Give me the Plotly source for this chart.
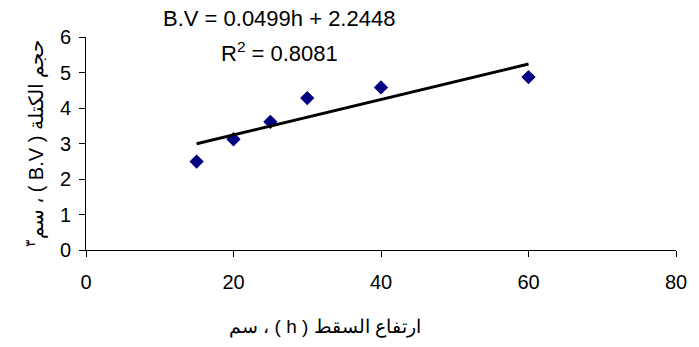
import plotly.graph_objects as go

h_values = [15, 20, 25, 30, 40, 60]
bv_values = [2.49, 3.12, 3.61, 4.28, 4.58, 4.87]
slope = 0.0499
intercept = 2.2448
r_squared = 0.8081
x_ticks = [0, 20, 40, 60, 80]
y_ticks = [0, 1, 2, 3, 4, 5, 6]

RLI, PDI = "\u2067", "\u2069"
x_title = RLI + "ارتفاع السقط ( h ) ، سم" + PDI
y_title = "<sup>٣</sup>" + RLI + "حجم الكتلة ( B.V ) ، سم" + PDI

trend_x = [min(h_values), max(h_values)]
trend_y = [slope * v + intercept for v in trend_x]

fig = go.Figure()
fig.add_trace(go.Scatter(x=h_values, y=bv_values, mode="markers",
                         marker=dict(symbol="diamond", size=11, color="#000080"),
                         showlegend=False))
fig.add_trace(go.Scatter(x=trend_x, y=trend_y, mode="lines",
                         line=dict(color="black", width=3), showlegend=False))

font_family = "Liberation Sans, Arial, sans-serif"
fig.update_layout(
    width=699, height=347,
    margin=dict(l=86, r=17, t=37, b=97),
    plot_bgcolor="white", paper_bgcolor="white",
    font=dict(family=font_family, size=18, color="black"),
    xaxis=dict(range=[0, 80], tickvals=x_ticks, showgrid=False, zeroline=False,
               showline=True, linecolor="black", linewidth=1,
               ticks="outside", ticklen=6, tickcolor="black",
               tickfont=dict(size=20), ticklabelstandoff=8),
    yaxis=dict(range=[0, 6], tickvals=y_ticks, showgrid=False, zeroline=False,
               showline=True, linecolor="black", linewidth=1,
               ticks="outside", ticklen=6, tickcolor="black",
               tickfont=dict(size=20), ticklabelstandoff=4,
               title=dict(text=y_title, font=dict(size=20), standoff=10)),
)
fig.add_annotation(text=x_title, xref="paper", yref="paper",
                   x=(327 - 86) / 596, y=(250 - 327) / 213, xanchor="center", yanchor="middle",
                   showarrow=False, font=dict(size=19))
fig.add_annotation(text=f"B.V = {slope}h + {intercept}", xref="paper", yref="paper",
                   x=(281 - 86) / 596, y=(250 - 19) / 213, xanchor="center", yanchor="middle",
                   showarrow=False, font=dict(size=22))
fig.add_annotation(text=f"R<sup>2</sup> = {r_squared}", xref="paper", yref="paper",
                   x=(281 - 86) / 596, y=(250 - 52) / 213, xanchor="center", yanchor="middle",
                   showarrow=False, font=dict(size=22))
fig.write_html("out.html")
